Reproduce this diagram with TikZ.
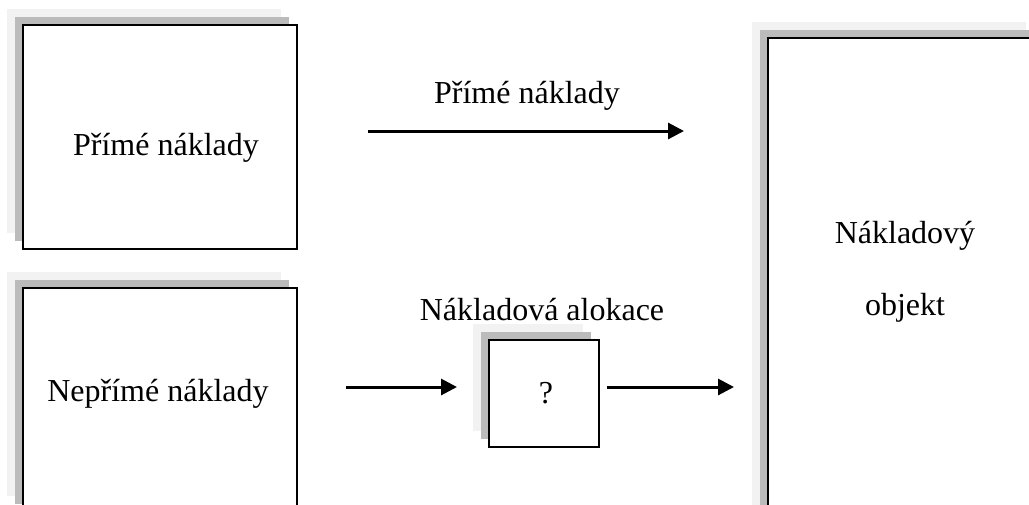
\documentclass[tikz,border=0pt]{standalone}
\usepackage{fontspec}
\setmainfont{Liberation Serif}
\usetikzlibrary{arrows.meta,shadows}
\definecolor{shadowdark}{HTML}{BBBBBB}
\definecolor{shadowlight}{HTML}{F2F2F2}
\tikzset{
  sbox/.style={draw, line width=2.6pt, fill=white, inner sep=0pt,
    general shadow={fill=shadowlight, draw=none, shadow xshift=-16pt, shadow yshift=16pt},
    general shadow={fill=shadowdark, draw=none, shadow xshift=-8pt, shadow yshift=8pt}},
  bigbox/.style={sbox, minimum width=274pt, minimum height=224pt},
  smallbox/.style={sbox, minimum width=110pt, minimum height=107pt},
  tallbox/.style={sbox, minimum width=274pt, minimum height=560pt},
  txt/.style={inner sep=0pt, font=\fontsize{32}{38}\selectfont},
  flow/.style={line width=3pt, -{Triangle[length=16pt,width=16pt]}}
}
\begin{document}
\begin{tikzpicture}[x=1pt,y=-1pt]
  \useasboundingbox (0,0) rectangle (1029,504);
  \clip (0,0) rectangle (1029,504);

  % boxes
  \node[bigbox] (direct) at (160,137) {};
  \node[bigbox] (indirect) at (160,400) {};
  \node[smallbox] (alloc) at (544,393.5) {};
  \node[tallbox] (object) at (905,318) {};

  % texts
  \node[txt] (directtext) at (166,148) {Přímé náklady};
  \node[txt] (indirecttext) at (158,394) {Nepřímé náklady};
  \node[txt] (q) at (546,393) {?};
  \node[txt] (objtext1) at (905,236) {Nákladový};
  \node[txt] (objtext2) at (905,308) {objekt};
  \node[txt] (directlabel) at (527,96) {Přímé náklady};
  \node[txt] (alloclabel) at (542,310) {Nákladová alokace};

  % arrow end points
  \coordinate (d1) at (368,131);
  \coordinate (d2) at (684,131);
  \coordinate (i1) at (346,387);
  \coordinate (i2) at (457,387);
  \coordinate (o1) at (607,387);
  \coordinate (o2) at (734,387);

  \draw[flow] (d1) -- (d2);
  \draw[flow] (i1) -- (i2);
  \draw[flow] (o1) -- (o2);
\end{tikzpicture}
\end{document}
